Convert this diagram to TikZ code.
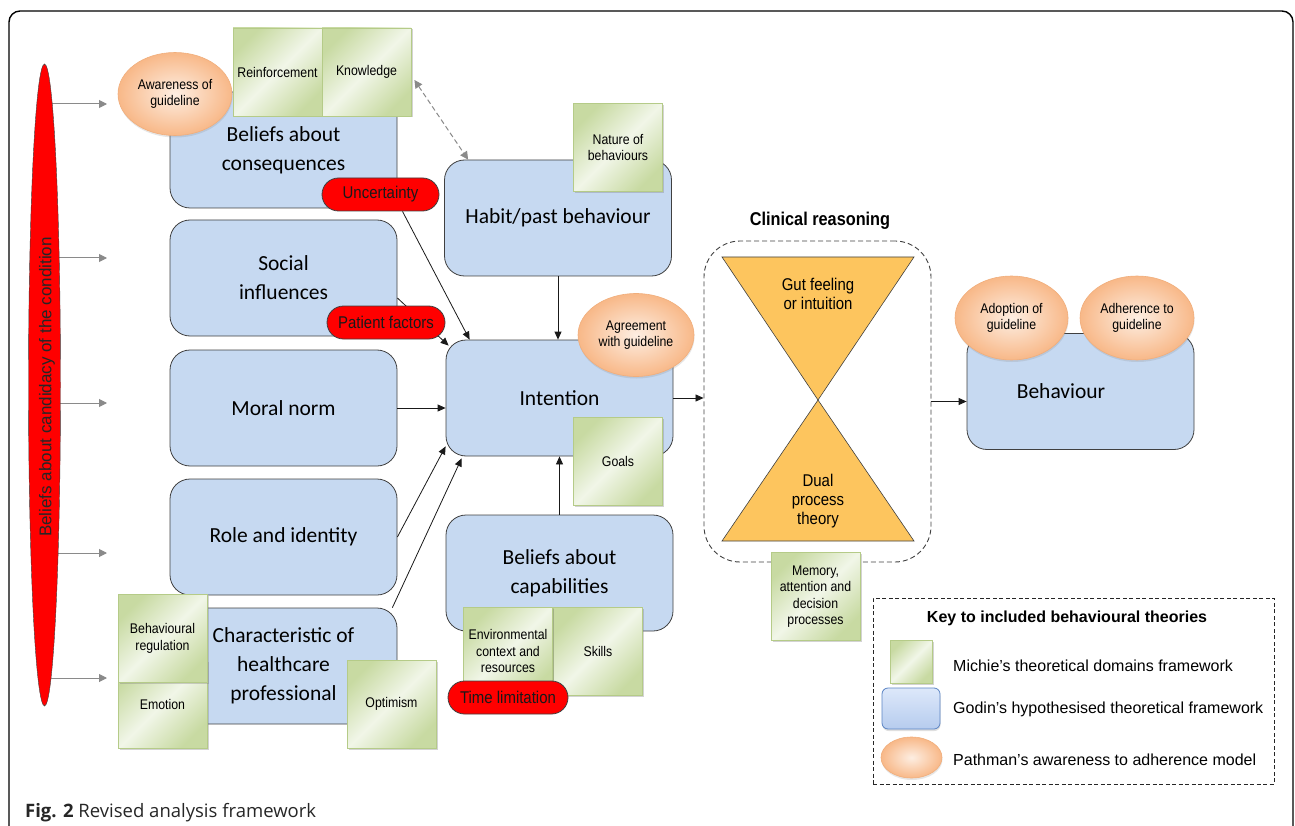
\documentclass[tikz,border=0pt]{standalone}
\usepackage{fontspec}
\setmainfont{Liberation Sans}
\newfontfamily\carl{Carlito}
\newfontfamily\narrow[FakeStretch=0.88]{Liberation Sans}
\newfontfamily\capfont{Open Sans}
\usetikzlibrary{arrows.meta,shapes.geometric,shapes.misc,shadows,backgrounds,calc}
\definecolor{godinblue}{HTML}{C6D9F1}
\definecolor{gborder}{HTML}{404040}
\definecolor{mlight}{HTML}{F1F6E8}
\definecolor{mdark}{HTML}{C8DAA2}
\definecolor{mborder}{HTML}{B5CB88}
\definecolor{plight}{HTML}{FDEEE2}
\definecolor{pdark}{HTML}{F8B888}
\definecolor{pborder}{HTML}{F0AE7C}
\definecolor{hourglass}{HTML}{FDC55E}
\definecolor{arrgray}{HTML}{8A8A8A}
\definecolor{klight}{HTML}{DDE8FA}
\definecolor{kdark}{HTML}{B6CCEE}
\definecolor{kborder}{HTML}{5B84C4}
\pgfdeclarelayer{arrowlayer}
\pgfsetlayers{background,arrowlayer,main}
\tikzset{
  godin/.style={draw=gborder, fill=godinblue, rounded corners=20pt, line width=0.8pt,
    minimum width=227pt, minimum height=116pt, align=center,
    font=\carl\fontsize{21.5}{29}\selectfont},
  michie/.style={draw=mborder, line width=0.8pt, left color=mdark, right color=mdark,
    middle color=mlight, shading angle=45, minimum width=89pt, minimum height=88pt,
    inner sep=2pt, align=center, font=\narrow\fontsize{14}{16.3}\selectfont,
    drop shadow={shadow xshift=1.5pt, shadow yshift=-1.5pt, opacity=0.35}},
  pathman/.style={ellipse, draw=pborder, line width=0.6pt, inner color=plight, outer color=pdark,
    inner sep=0pt, align=center, font=\narrow\fontsize{14}{16.3}\selectfont,
    drop shadow={shadow xshift=0.5pt, shadow yshift=-2pt, opacity=0.2}},
  barrier/.style={rounded rectangle, fill=red, draw=gborder, line width=0.8pt,
    minimum height=33pt, inner sep=0pt, text=black!90,
    font=\narrow\fontsize{17}{19}\selectfont},
  arr/.style={-{Triangle[length=8pt,width=7pt]}, line width=0.8pt, draw=black!90},
  garr/.style={-{Triangle[length=8pt,width=8pt]}, line width=1pt, draw=arrgray},
  darr/.style={{Triangle[length=8pt,width=8pt]}-{Triangle[length=8pt,width=8pt]},
    line width=1pt, draw=arrgray, dash pattern=on 5pt off 3pt},
  hgtext/.style={align=center, font=\narrow\fontsize{17}{19}\selectfont},
  keytext/.style={anchor=west, inner sep=0pt, font=\fontsize{16}{18}\selectfont}
}
\begin{document}
\begin{tikzpicture}[x=1pt,y=-1pt]
\useasboundingbox (0,0) rectangle (1295,826);
\begin{pgfonlayer}{background}
\begin{scope}
\clip (0,0) rectangle (1295,826);
\draw[line width=1.4pt, rounded corners=11pt] (9,11) rectangle (1293,850);
\end{scope}
% Godin boxes
\node[godin] (cons) at (283.5,150) {Beliefs about\\consequences};
\node[godin] (soc) at (283.5,278) {Social\\influences};
\node[godin] (moral) at (283.5,408) {Moral norm};
\node[godin] (role) at (283.5,537) {Role and identity};
\node[godin] (char) at (283.5,666) {Characteristic of\\healthcare\\professional};
\node[godin] (habit) at (558,218) {Habit/past behaviour};
\node[godin] (intent) at (559.5,398) {Intention};
\node[godin] (cap) at (559.5,573) {Beliefs about\\capabilities};
\node[godin] (beh) at (1080.5,391.5) {};
\node[font=\carl\fontsize{21.5}{29}\selectfont] (behtext) at (1061,391) {Behaviour};
% clinical reasoning
\node[draw=gborder, dash pattern=on 5pt off 3pt, rounded corners=36pt, line width=0.9pt,
  minimum width=227pt, minimum height=321pt] (clin) at (817.5,401.5) {};
\filldraw[fill=hourglass, draw=gborder, line width=0.6pt] (722,257) -- (914,257) -- (818,400) -- cycle;
\filldraw[fill=hourglass, draw=gborder, line width=0.6pt] (722,541) -- (914,541) -- (818,400) -- cycle;
\end{pgfonlayer}

\node[hgtext] (gut) at (818,294) {Gut feeling\\or intuition};
\node[hgtext] (dual) at (818,501) {Dual\\process\\theory};
\node[font=\narrow\bfseries\fontsize{18.5}{20}\selectfont] (clintitle) at (820,221) {Clinical reasoning};

% candidacy
\node[ellipse, draw=gborder, fill=red, minimum width=32pt, minimum height=642pt, inner sep=0pt] (cand) at (44.5,385) {};
\node[rotate=90, text=black!85, font=\fontsize{17}{19}\selectfont] (candt) at (47,387) {Beliefs about candidacy of the condition};

% Michie boxes
\node[michie] (reinf) at (277.5,72) {Reinforcement};
\node[michie] (know) at (366.5,72) {Knowledge};
\node[michie] (nature) at (618,147.5) {Nature of\\behaviours};
\node[michie] (goals) at (618,461.5) {Goals};
\node[michie] (emo) at (162.5,704) {Emotion};
\node[michie] (breg) at (162.5,638.5) {Behavioural\\regulation};
\node[michie] (optim) at (391.5,704) {Optimism};
\node[michie] (skills) at (598,651) {Skills};
\node[michie] (env) at (508,651) {Environmental\\context and\\resources};
\node[michie] (mem) at (815.5,596.5) {Memory,\\attention and\\decision\\processes};

% Pathman ellipses
\node[pathman, minimum width=114pt, minimum height=83pt] (aware) at (175,94) {Awareness of\\guideline};
\node[pathman, minimum width=116pt, minimum height=83pt] (agree) at (636,335) {Agreement\\with guideline};
\node[pathman, minimum width=113pt, minimum height=84pt] (adopt) at (1011.5,318) {Adoption of\\guideline};
\node[pathman, minimum width=114pt, minimum height=84pt] (adher) at (1137,318) {Adherence to\\guideline};

% barriers
\node[barrier, minimum width=117pt] (unc) at (380.5,194.5) {Uncertainty};
\node[barrier, minimum width=118pt] (pat) at (386,322.5) {Patient factors};
\node[barrier, minimum width=120pt] (time) at (508,697.5) {Time limitation};

% connectors
\begin{pgfonlayer}{arrowlayer}
\draw[arr] ([xshift=22pt]unc.south) -- ([xshift=24pt]intent.north west);
\draw[arr] ([yshift=-20pt]soc.east) -- ([xshift=3pt,yshift=-6pt]intent.north west);
\draw[arr] (moral.east) -- (moral.east -| intent.west);
\draw[arr] (role.east) -- ([yshift=10pt]intent.south west);
\draw[arr] ([xshift=-5pt]char.north east) -- ([xshift=16pt,yshift=-2pt]intent.south west);
\draw[arr] (habit.south) -- (habit.south |- intent.north);
\draw[arr] (cap.north) -- (cap.north |- intent.south);
\draw[arr] (intent.east) -- (intent.east -| clin.west);
\draw[arr] (clin.east) -- (clin.east -| beh.west);
\draw[darr] ([xshift=3pt,yshift=-8pt]know.east) -- ([xshift=24pt]habit.north west);
\foreach \yy/\n in {104/1,258/2,403/3,553/4,678/5}{
  \coordinate (g\n) at (107,\yy);
  \draw[garr] (cand.center |- g\n) -- (g\n);
}
\end{pgfonlayer}

% key
\node[draw=black!85, dash pattern=on 4pt off 2.5pt, line width=0.8pt, minimum width=401pt, minimum height=186pt] (key) at (1073.5,691) {};
\node[font=\bfseries\fontsize{16}{18}\selectfont] (keytitle) at (1067,618) {Key to included behavioural theories};
\node[michie, minimum width=42pt, minimum height=43pt] (k1) at (911,661.5) {};
\node[draw=kborder, line width=0.8pt, rounded corners=6pt, top color=klight, bottom color=kdark,
  minimum width=58pt, minimum height=41pt, drop shadow={shadow xshift=0.5pt, shadow yshift=-2pt, opacity=0.25}] (k2) at (911,708.5) {};
\node[pathman, minimum width=61pt, minimum height=41pt] (k3) at (911.5,757.5) {};
\node[keytext] (k1t) at (953,666) {Michie’s theoretical domains framework};
\node[keytext] (k2t) at (953,709) {Godin’s hypothesised theoretical framework};
\node[keytext] (k3t) at (953,760) {Pathman’s awareness to adherence model};

% caption
\node[anchor=base west, inner sep=0pt, text=black!85, font=\capfont\fontsize{18.5}{22}\selectfont] (caption) at (25,817) {\textbf{Fig. 2} Revised analysis framework};
\end{tikzpicture}
\end{document}
